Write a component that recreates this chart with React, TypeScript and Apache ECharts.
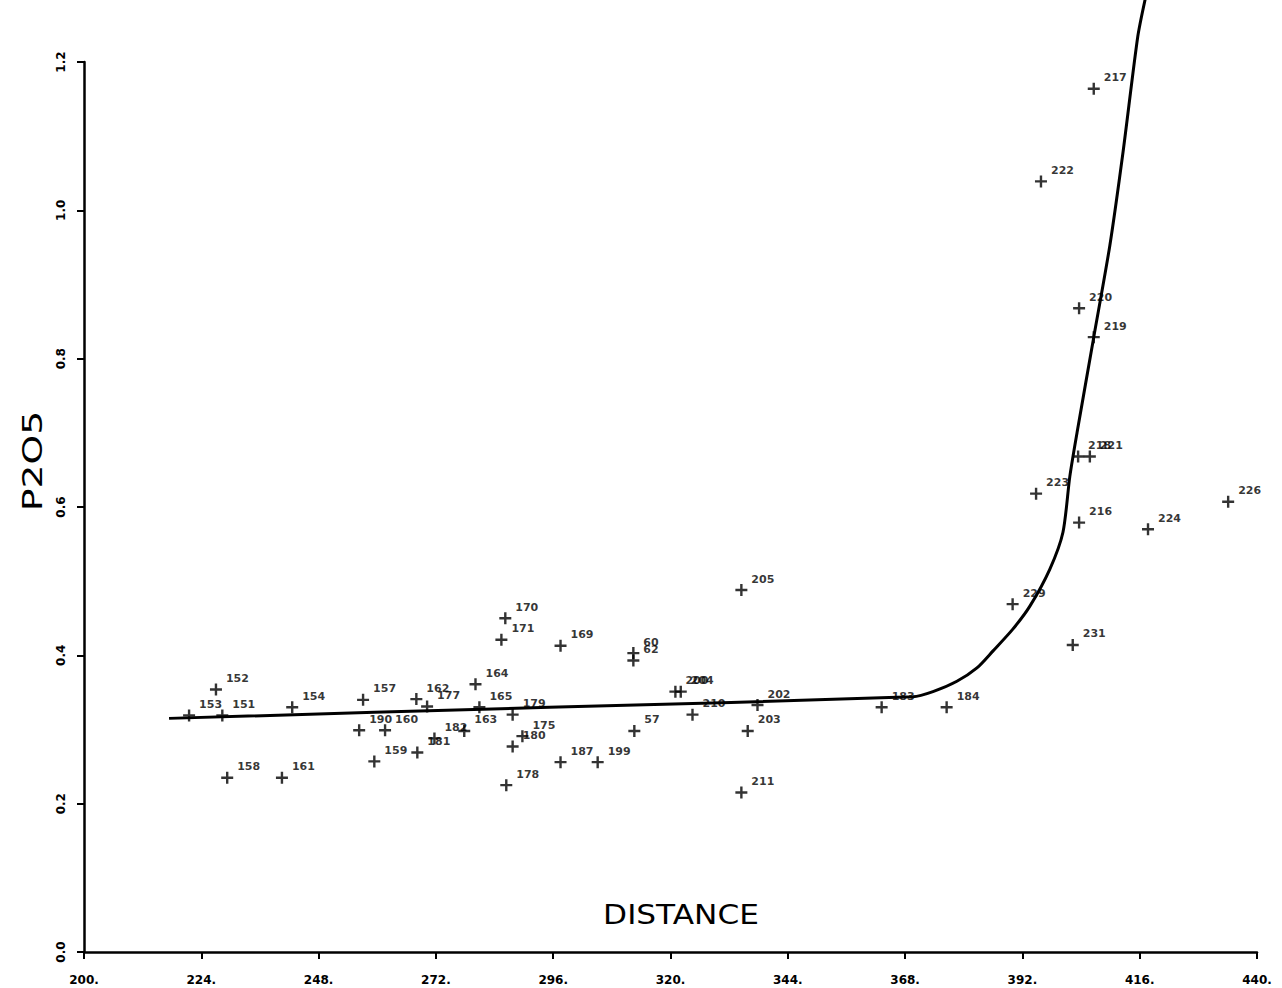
import React, { useEffect, useRef } from "react";
import * as echarts from "echarts";

// Sample numbers, distance along the traverse and P2O5 content
const sampleIds = [
  "153", "152", "151", "158", "161", "154", "157", "190", "160", "159",
  "162", "177", "181", "182", "163", "164", "165", "179", "180", "175",
  "178", "170", "171", "169", "187", "199", "57", "60", "62", "200",
  "204", "210", "205", "202", "203", "211", "183", "184", "229", "231",
  "223", "216", "224", "226", "218", "221", "220", "219", "217", "222",
];
const sampleDistance = [
  221.5, 227.0, 228.3, 229.3, 240.5, 242.6, 257.1, 256.3, 261.6, 259.4,
  268.0, 270.2, 268.2, 271.7, 277.8, 280.1, 280.9, 287.7, 287.7, 289.7,
  286.4, 286.2, 285.4, 297.5, 297.5, 305.1, 312.6, 312.4, 312.4, 321.0,
  322.1, 324.5, 334.5, 337.8, 335.8, 334.5, 363.2, 376.5, 390.0, 402.3,
  394.8, 403.6, 417.7, 434.1, 403.4, 405.8, 403.6, 406.6, 406.6, 395.8,
];
const sampleP2O5 = [
  0.319, 0.354, 0.319, 0.235, 0.235, 0.330, 0.340, 0.299, 0.299, 0.257,
  0.341, 0.331, 0.269, 0.288, 0.298, 0.361, 0.330, 0.320, 0.277, 0.291,
  0.225, 0.450, 0.421, 0.413, 0.256, 0.256, 0.298, 0.403, 0.393, 0.351,
  0.351, 0.320, 0.488, 0.333, 0.298, 0.215, 0.330, 0.330, 0.469, 0.414,
  0.618, 0.579, 0.570, 0.607, 0.668, 0.668, 0.868, 0.829, 1.164, 1.039,
];

// Fitted trend curve
const trendDistance = [
  217.4, 295.2, 369.6, 373.7, 378.6, 382.7, 386.0, 390.0, 393.5, 397.6,
  400.3, 401.7, 403.2, 406.6, 409.9, 412.6, 415.6, 417.1,
];
const trendP2O5 = [
  0.315, 0.330, 0.344, 0.351, 0.365, 0.383, 0.406, 0.435, 0.466, 0.516,
  0.566, 0.641, 0.701, 0.829, 0.953, 1.079, 1.234, 1.284,
];

// Axis ticks
const distanceTicks = [200, 224, 248, 272, 296, 320, 344, 368, 392, 416, 440];
const p2o5Ticks = [0, 0.2, 0.4, 0.6, 0.8, 1.0, 1.2];

const INK = "#000";
const PLUS = "path://M4,0H6V4H10V6H6V10H4V6H0V4H4Z";

export default function App() {
  const ref = useRef<HTMLDivElement>(null);

  useEffect(() => {
    if (!ref.current) return;
    const chart = echarts.init(ref.current, null, { renderer: "svg" });

    const points = sampleIds.map((id, i) => ({
      name: id,
      value: [sampleDistance[i], sampleP2O5[i]],
    }));
    const trend = trendDistance.map((x, i) => [x, trendP2O5[i]]);

    chart.setOption({
      animation: false,
      backgroundColor: "#fff",
      grid: { left: 84, right: 25, top: 62, bottom: 36, containLabel: false },
      xAxis: {
        type: "value",
        min: distanceTicks[0],
        max: distanceTicks[distanceTicks.length - 1],
        splitLine: { show: false },
        axisLine: { show: true, onZero: false, lineStyle: { color: INK, width: 2.5 } },
        axisTick: {
          show: true,
          length: 7,
          customValues: distanceTicks,
          lineStyle: { color: INK, width: 2 },
        },
        axisLabel: {
          customValues: distanceTicks,
          formatter: (v: number) => `${v}.`,
          color: INK,
          fontFamily: "DejaVu Sans",
          fontWeight: "bold",
          fontSize: 12,
          margin: 22,
        },
      },
      yAxis: {
        type: "value",
        min: 0,
        max: 1.2,
        interval: 0.2,
        splitLine: { show: false },
        axisLine: { show: true, onZero: false, lineStyle: { color: INK, width: 2.5 } },
        axisTick: { show: true, length: 7, lineStyle: { color: INK, width: 2 } },
        axisLabel: {
          rotate: 90,
          formatter: (v: number) => (p2o5Ticks.includes(Math.round(v * 10) / 10) ? v.toFixed(1) : ""),
          color: INK,
          fontFamily: "DejaVu Sans",
          fontWeight: "bold",
          fontSize: 12,
          margin: 17,
        },
      },
      graphic: [
        {
          type: "text",
          x: 681,
          y: 915,
          scaleX: 1.2,
          style: {
            text: "DISTANCE",
            fill: INK,
            font: "26px 'DejaVu Sans'",
            textAlign: "center",
            textVerticalAlign: "middle",
          },
        },
        {
          type: "text",
          x: 33,
          y: 461,
          rotation: Math.PI / 2,
          scaleX: 1.45,
          style: {
            text: "P2O5",
            fill: INK,
            font: "26px 'DejaVu Sans'",
            textAlign: "center",
            textVerticalAlign: "middle",
          },
        },
      ],
      series: [
        {
          type: "line",
          data: trend,
          showSymbol: false,
          smooth: 0.25,
          clip: false,
          lineStyle: { color: INK, width: 3 },
          z: 2,
        },
        {
          type: "scatter",
          data: points,
          symbol: PLUS,
          symbolSize: 12,
          itemStyle: { color: INK },
          label: {
            show: true,
            position: [16, -5],
            align: "left",
            verticalAlign: "middle",
            formatter: (p: any) => p.name,
            color: INK,
            fontFamily: "DejaVu Sans",
            fontWeight: "bold",
            fontSize: 11,
          },
          labelLayout: { hideOverlap: false },
          z: 3,
        },
      ],
    });

    return () => chart.dispose();
  }, []);

  return (
    <div
      ref={ref}
      style={{ position: "fixed", left: 0, top: 0, width: 1282, height: 988, background: "#fff" }}
    />
  );
}
